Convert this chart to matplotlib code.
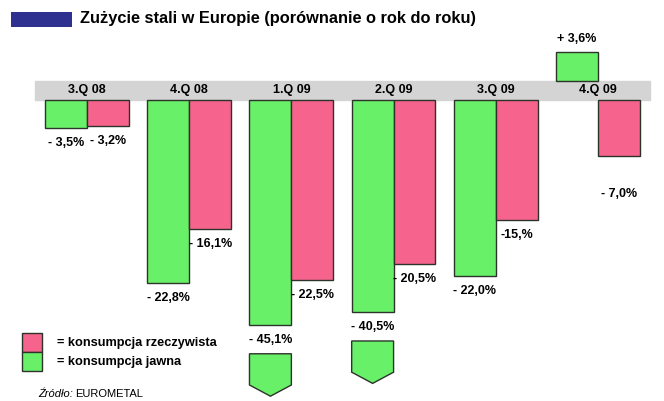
import matplotlib.pyplot as plt
from matplotlib.patches import Rectangle, Polygon

# dane (porownanie rok do roku, %)
kwartaly = ["3.Q 08", "4.Q 08", "1.Q 09", "2.Q 09", "3.Q 09", "4.Q 09"]
jawna = [-3.5, -22.8, -45.1, -40.5, -22.0, 3.6]
rzeczywista = [-3.2, -16.1, -22.5, -20.5, -15.0, -7.0]
etykiety_jawna = ["- 3,5%", "- 22,8%", "- 45,1%", "- 40,5%", "- 22,0%", "+ 3,6%"]
etykiety_rzecz = ["- 3,2%", "- 16,1%", "- 22,5%", "- 20,5%", "-15,%", "- 7,0%"]

ZIELONY = "#68f068"
ROZOWY = "#f6648e"
SZARY = "#d4d4d4"
GRANAT = "#2e3190"
KRAWEDZ = "#2b332b"
FONT = "Liberation Sans"

przerwa = 1.2            # polowa szarego pasa
obciete_jawna = {2: 28.1, 3: 26.5}  # slupki uciete, dalej strzalka
szer = 0.41
W, H = 664, 401


def px(x, y):
    # piksele obrazka -> wspolrzedne figury
    return x / W, 1 - y / H


fig = plt.figure(figsize=(6.64, 4.01), dpi=100)
ax = fig.add_axes([0, 0, 1, 1])
ax.set_xlim(-0.851, 5.646)
ax.set_ylim(-38.8, 11.3)
ax.axis("off")

# szary pas z kwartalami
ax.axhspan(-przerwa, przerwa, xmin=35 / W, xmax=650 / W, color=SZARY, zorder=1)
for i, k in enumerate(kwartaly):
    ax.text(i, 0, k, ha="center", va="center", fontsize=9, fontweight="bold",
            family=FONT, zorder=3)


def rysuj(wartosci, etykiety, przes, kolor, obciete={}, dodatkowe={}):
    dlug = [obciete.get(i, abs(v)) for i, v in enumerate(wartosci)]
    dol = [przerwa if v > 0 else -przerwa for v in wartosci]
    wys = [d if v > 0 else -d for d, v in zip(dlug, wartosci)]
    xs = [i + przes for i in range(len(wartosci))]
    ax.bar(xs, wys, width=szer, bottom=dol, color=kolor, edgecolor=KRAWEDZ,
           linewidth=1, zorder=2)
    for i, (x, b, h) in enumerate(zip(xs, dol, wys)):
        koniec = b + h
        if h > 0:
            y = koniec + 1.6
        else:
            y = koniec - 1.9 - dodatkowe.get(i, 0)
        ax.text(x, y, etykiety[i], ha="center", va="center", fontsize=9,
                fontweight="bold", family=FONT)
        if i in obciete:
            g = koniec - 3.6
            s = g - 3.9
            p = s - 1.4
            ax.add_patch(Polygon([(x - szer / 2, g), (x + szer / 2, g),
                                  (x + szer / 2, s), (x, p), (x - szer / 2, s)],
                                 closed=True, facecolor=kolor, edgecolor=KRAWEDZ,
                                 linewidth=1, zorder=2))


rysuj(jawna, etykiety_jawna, -szer / 2, ZIELONY, obciete=obciete_jawna)
rysuj(rzeczywista, etykiety_rzecz, szer / 2, ROZOWY, dodatkowe={5: 2.9})

# tytul
fig.patches.append(Rectangle(px(11, 27), 61 / W, 15 / H, transform=fig.transFigure,
                             facecolor=GRANAT, edgecolor="none"))
fig.text(*px(80, 19), "Zużycie stali w Europie (porównanie o rok do roku)",
         ha="left", va="center", fontsize=11.8, fontweight="bold", family=FONT)

# legenda
for y0, kolor, opis in [(352, ROZOWY, "= konsumpcja rzeczywista"),
                        (371, ZIELONY, "= konsumpcja jawna")]:
    fig.patches.append(Rectangle(px(22, y0), 20 / W, 19 / H, transform=fig.transFigure,
                                 facecolor=kolor, edgecolor=KRAWEDZ, linewidth=1))
    fig.text(*px(57, y0 - 9), opis, ha="left", va="center", fontsize=9.2,
             fontweight="bold", family=FONT)

fig.text(*px(38, 394), "Źródło:", ha="left", va="center", fontsize=8,
         style="italic", family=FONT)
fig.text(*px(75, 394), "EUROMETAL", ha="left", va="center", fontsize=8, family=FONT)

fig.savefig("out.png", dpi=100, facecolor="white")
